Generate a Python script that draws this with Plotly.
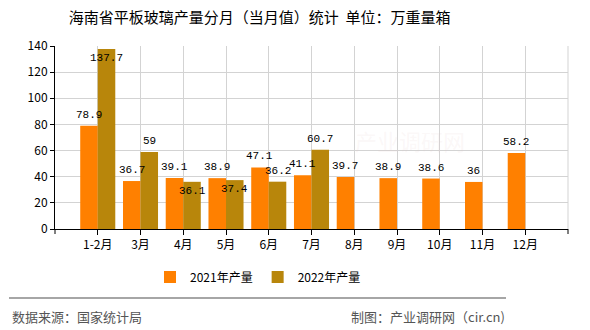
import plotly.graph_objects as go

categories = ["1-2月", "3月", "4月", "5月", "6月", "7月", "8月", "9月", "10月", "11月", "12月"]
output_2021 = [78.9, 36.7, 39.1, 38.9, 47.1, 41.1, 39.7, 38.9, 38.6, 36, 58.2]
output_2022 = [137.7, 59, 36.1, 37.4, 36.2, 60.7, None, None, None, None, None]
label_inside_2022 = [True, False, True, True, False, False, False, False, False, False, False]
y_ticks = [0, 20, 40, 60, 80, 100, 120, 140]

C21 = "#FF8000"
C22 = "#B8860B"
GRID = "#d3d3d3"
LABEL_FONT = dict(family="Liberation Mono, DejaVu Sans Mono, monospace", size=11, color="#000")

L, R, T, B = 55, 22, 46, 101
W, H = 590, 330
pw, ph = W - L - R, H - T - B
BARGAP = 0.18

fig = go.Figure()
fig.add_trace(go.Bar(name="2021年产量", x=categories, y=output_2021,
                     marker=dict(color=C21, line=dict(width=0))))
fig.add_trace(go.Bar(name="2022年产量", x=categories, y=output_2022,
                     marker=dict(color=C22, line=dict(width=0))))

def px_x(px):
    return (px - L) / pw

def px_y(py):
    return (H - B - py) / ph

# half bar width in pixels (style offset for labels of grouped bars)
slot = pw / (len(categories) + 1)
half_bar = slot * (1 - BARGAP) / 4

for cat, v in zip(categories, output_2021):
    fig.add_annotation(x=cat, y=v, text=f"{v:g}", showarrow=False, xshift=-half_bar,
                       yanchor="bottom", yshift=3, font=LABEL_FONT)
for cat, v, ins in zip(categories, output_2022, label_inside_2022):
    if v is None:
        continue
    fig.add_annotation(x=cat, y=v, text=f"{v:g}", showarrow=False, xshift=half_bar,
                       yanchor="top" if ins else "bottom", yshift=-1 if ins else 3,
                       font=LABEL_FONT)

fig.update_layout(
    width=W, height=H, margin=dict(l=L, r=R, t=T, b=B),
    paper_bgcolor="white", plot_bgcolor="white",
    barmode="group", bargap=BARGAP, bargroupgap=0,
    font=dict(family="Noto Sans CJK SC, sans-serif", size=12, color="#000"),
    title=dict(text="海南省平板玻璃产量分月（当月值）统计  单位：万重量箱",
               x=0.44, xref="container", xanchor="center",
               y=1 - 18 / H, yref="container", yanchor="middle",
               font=dict(size=15, color="#000")),
    xaxis=dict(type="category", range=[-1, len(categories)],
               showgrid=True, gridcolor=GRID, gridwidth=1,
               showline=True, linecolor="#000", linewidth=1,
               ticks="outside", ticklen=5, tickcolor="#000",
               tickfont=dict(size=12, color="#000"), zeroline=False),
    yaxis=dict(range=[0, 140], tickvals=y_ticks,
               showgrid=True, gridcolor=GRID, gridwidth=1,
               showline=True, linecolor="#000", linewidth=1,
               ticks="outside", ticklen=4, tickcolor="#000",
               tickfont=dict(size=12, color="#000"), zeroline=False),
    legend=dict(orientation="h", x=px_x(258), xanchor="center", y=px_y(277), yanchor="middle",
                font=dict(size=12, color="#000"), itemwidth=30, traceorder="normal"),
    showlegend=True,
)

shapes = [
    dict(type="line", xref="paper", yref="paper", x0=1, x1=1, y0=0, y1=1,
         line=dict(color=GRID, width=1)),
    dict(type="line", xref="paper", yref="paper", x0=1, x1=1, y0=0, y1=px_y(234),
         line=dict(color="#000", width=1)),
    dict(type="line", xref="paper", yref="paper", x0=0, x1=0, y0=0, y1=px_y(234),
         line=dict(color="#000", width=1)),
    dict(type="line", xref="paper", yref="paper", x0=px_x(9), x1=px_x(506),
         y0=px_y(298), y1=px_y(298), line=dict(color="#888", width=1.5)),
]
fig.update_layout(shapes=shapes)

fig.add_annotation(text="数据来源：国家统计局", xref="paper", yref="paper",
                   x=px_x(10), y=px_y(316), xanchor="left", yanchor="middle",
                   showarrow=False, font=dict(size=13, color="#555"))
fig.add_annotation(text="制图：产业调研网（cir.cn)", xref="paper", yref="paper",
                   x=px_x(507), y=px_y(316), xanchor="right", yanchor="middle",
                   showarrow=False, font=dict(size=13, color="#555"))
fig.add_annotation(text="产业调研网", xref="paper", yref="paper",
                   x=px_x(410), y=px_y(140), xanchor="center", yanchor="middle",
                   showarrow=False, font=dict(size=22, color="rgba(230,200,200,0.15)"))

fig.write_html("out.html")
